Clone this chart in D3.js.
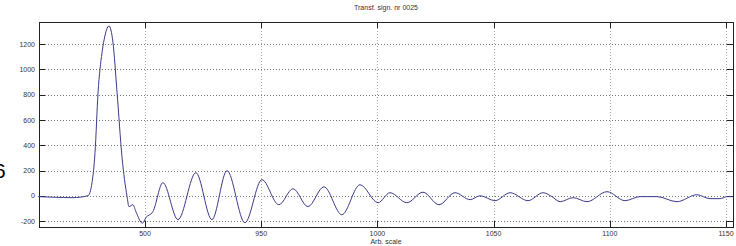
<!doctype html>
<html>
<head>
<meta charset="utf-8"/>
<style>
  html, body { margin: 0; padding: 0; background: #fff; }
  svg { display: block; }
  .lab { font-family: "Liberation Sans", Arial, sans-serif; font-size: 7px; fill: #333; }
</style>
<script src="https://d3js.org/d3.v7.min.js"></script>
</head>
<body>
<svg width="736" height="246"></svg>
<script>
// signal samples
var xs = [854, 861, 869, 875.5, 877.2, 878.5, 879.8, 881.5, 882.4, 884.5, 886.2, 888, 890.1, 892.3, 893.1,
          894.8, 896.1, 898.9, 900.4, 903.4, 907.7, 914.2, 921.9, 928.8, 935.3, 943, 950.3, 957.6, 963.7,
          970.1, 977, 984.7, 992.5, 1000.3, 1005.4, 1012.7, 1019.6, 1026.5, 1033.4, 1039.9, 1044.2, 1050.6,
          1057.1, 1064.8, 1071.3, 1075.1, 1078.6, 1084.2, 1090.2, 1098.8, 1106.5, 1113, 1120.3, 1128.9,
          1137.5, 1143.1, 1147.4, 1150.4, 1153];
var ys = [-5, -10, -13, 2, 105, 342, 815, 1131, 1233, 1344, 1217, 815, 310, -5, -84,
          -69, -124, -215, -171, -124, 105, -187, 184, -187, 200, -211, 129, -69, 57,
          -84, 73, -148, 89, -53, 26, -53, 30, -69, 26, -29, 2, -37,
          26, -37, 26, -5, -45, -13, -45, 34, -37, -5, -5, -45,
          10, -21, -21, -5, -5];

var xTicks = [900, 950, 1000, 1050, 1100, 1150];
var xTickLabels = ["500", "950", "1000", "1050", "1100", "1150"];
var yTicks = [-200, 0, 200, 400, 600, 800, 1000, 1200];

var svg = d3.select("svg");
var pL = 39, pR = 733, pT = 22, pB = 227;

var x = d3.scaleLinear().domain([854.4, 1153]).range([pL, pR]);
var y = d3.scaleLinear().domain([-245, 1375]).range([pB, pT]);

// grid
svg.append("g").selectAll("line").data(yTicks).enter().append("line")
    .attr("x1", pL).attr("x2", pR)
    .attr("y1", function(d) { return Math.round(y(d)) + 0.5; })
    .attr("y2", function(d) { return Math.round(y(d)) + 0.5; })
    .attr("stroke", "#777").attr("stroke-dasharray", "1,2");

svg.append("g").selectAll("line").data(xTicks).enter().append("line")
    .attr("y1", pT).attr("y2", pB)
    .attr("x1", function(d) { return Math.round(x(d)) + 0.5; })
    .attr("x2", function(d) { return Math.round(x(d)) + 0.5; })
    .attr("stroke", "#aaa").attr("stroke-dasharray", "1,2");

// box
svg.append("rect")
    .attr("x", pL + 0.5).attr("y", pT + 0.5)
    .attr("width", pR - pL).attr("height", pB - pT)
    .attr("fill", "none").attr("stroke", "#222");

// inward ticks, matlab style
var tk = svg.append("g").attr("stroke", "#222");
yTicks.forEach(function(d) {
  var py = Math.round(y(d)) + 0.5;
  tk.append("line").attr("x1", pL).attr("x2", pL + 6).attr("y1", py).attr("y2", py);
  tk.append("line").attr("x1", pR - 6).attr("x2", pR).attr("y1", py).attr("y2", py);
});
xTicks.forEach(function(d) {
  var px = Math.round(x(d)) + 0.5;
  tk.append("line").attr("y1", pB).attr("y2", pB - 6).attr("x1", px).attr("x2", px);
  tk.append("line").attr("y1", pT).attr("y2", pT + 6).attr("x1", px).attr("x2", px);
});

// labels
svg.append("g").selectAll("text").data(yTicks).enter().append("text")
    .attr("class", "lab")
    .attr("x", pL - 4)
    .attr("y", function(d) { return y(d) + 2.5; })
    .attr("text-anchor", "end")
    .text(function(d) { return d; });

svg.append("g").selectAll("text").data(xTicks).enter().append("text")
    .attr("class", "lab")
    .attr("x", function(d) { return x(d); })
    .attr("y", pB + 9)
    .attr("text-anchor", "middle")
    .text(function(d, i) { return xTickLabels[i]; });

svg.append("text").attr("class", "lab")
    .attr("x", (pL + pR) / 2).attr("y", 244)
    .attr("text-anchor", "middle").text("Arb. scale");

svg.append("text").attr("class", "lab")
    .attr("x", (pL + pR) / 2).attr("y", 10)
    .attr("text-anchor", "middle").text("Transf. sign. nr 0025");

svg.append("text")
    .attr("x", -6).attr("y", 178)
    .attr("font-family", "Liberation Sans, Arial, sans-serif")
    .attr("font-size", 21).attr("fill", "#000")
    .text("6");

// signal
var pts = xs.map(function(d, i) { return [d, ys[i]]; });
var line = d3.line()
    .x(function(d) { return x(d[0]); })
    .y(function(d) { return y(d[1]); })
    .curve(d3.curveMonotoneX);

svg.append("path")
    .datum(pts)
    .attr("d", line)
    .attr("fill", "none")
    .attr("stroke", "#3b3b8a")
    .attr("stroke-width", 1);
</script>
</body>
</html>
